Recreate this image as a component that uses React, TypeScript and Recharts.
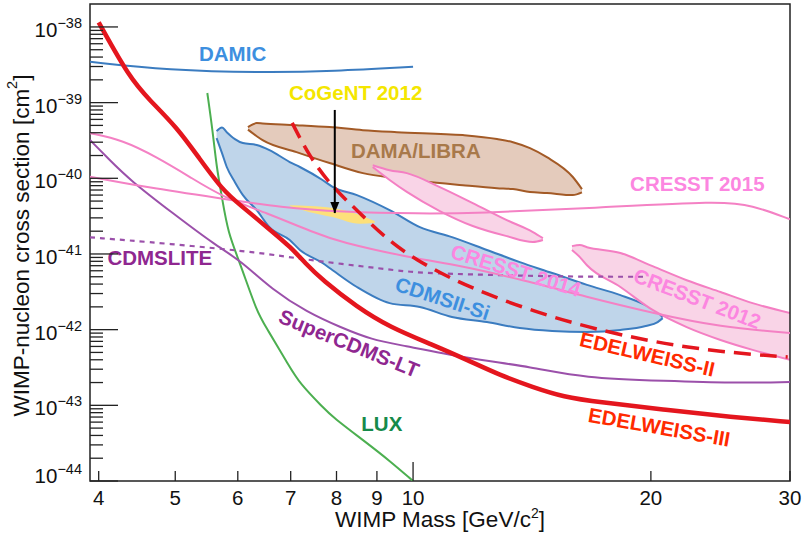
import React from 'react';
import { ComposedChart, Line, Area, XAxis, YAxis, ReferenceArea, ReferenceDot } from 'recharts';

// ---------- axes ----------
const xTicks = [4, 5, 6, 7, 8, 9, 10, 20, 30];
const yDecadeExponents = [-44, -43, -42, -41, -40, -39, -38];
const yMinorMantissas = [2, 3, 4, 5, 6, 7, 8, 9];
const xDomain = [3.9, 30];
const yDomain = [1e-44, 2.01e-38];

// ---------- exclusion limits (mass GeV/c^2, cross section cm^2) ----------
const damicMass = [3.9, 4.88, 6.52, 7.9, 10];
const damicSigma = [3.46e-39, 2.69e-39, 2.48e-39, 2.6e-39, 2.97e-39];

const edw3Mass = [4.0, 4.38, 4.64, 5.02, 5.36, 5.74, 6.03, 6.6, 7.0, 7.3, 7.68, 8.49, 9.34, 10.59, 11.7, 12.88, 14.18, 15.5, 17.2, 20.9, 25.3, 30];
const edw3Sigma = [1.15e-38, 2.1e-39, 1.08e-39, 4.75e-40, 1.85e-40, 7.0e-41, 4.5e-41, 2.07e-41, 1.23e-41, 7.6e-42, 4.5e-42, 2.0e-42, 1.08e-42, 6.3e-43, 4.0e-43, 2.5e-43, 1.74e-43, 1.29e-43, 1.1e-43, 8.7e-44, 7.0e-44, 6.0e-44];

const edw2Mass = [7.03, 7.4, 7.9, 8.49, 9.28, 10.1, 11.2, 12.4, 14.18, 16.6, 20.1, 24.5, 29.8];
const edw2Sigma = [5.4e-40, 1.9e-40, 7.7e-41, 3.8e-41, 1.53e-41, 8.3e-42, 4.66e-42, 2.95e-42, 1.76e-42, 1.08e-42, 6.86e-43, 5.06e-43, 4.35e-43];

const luxMass = [5.49, 5.58, 5.64, 5.73, 5.83, 6.04, 6.35, 6.52, 6.98, 7.19, 7.68, 7.91, 8.74, 9.34, 10];
const luxSigma = [1.34e-39, 4.0e-40, 1.4e-40, 5.6e-41, 1.9e-41, 7.6e-42, 1.66e-42, 1.07e-42, 3.2e-43, 1.94e-43, 9.5e-44, 7.0e-44, 3.18e-44, 1.85e-44, 1.0e-44];

const cdmsliteMass = [3.9, 4.88, 6.52, 7.0, 9.34, 10.2, 12.4, 15.8, 19.8];
const cdmsliteSigma = [1.66e-41, 1.38e-41, 1.02e-41, 8.9e-42, 6.2e-42, 5.6e-42, 5.3e-42, 5.0e-42, 5.0e-42];

const superCdmsMass = [3.9, 4.13, 4.38, 4.96, 5.64, 6.04, 6.64, 7.34, 8.08, 8.89, 9.62, 11.7, 14.18, 16.4, 20.96, 25.3, 30];
const superCdmsSigma = [3.2e-40, 1.74e-40, 9.5e-41, 3.47e-41, 1.27e-41, 8.3e-42, 3.33e-42, 1.71e-42, 1.08e-42, 7.3e-43, 6.3e-43, 4.2e-43, 3.2e-43, 2.3e-43, 2.1e-43, 1.97e-43, 2.03e-43];

const cresst14Mass = [3.9, 4.29, 4.74, 5.22, 5.74, 6.52, 7.5, 8.08, 9.82, 11.2, 13.65, 16.6, 20.1, 24.5, 30];
const cresst14Sigma = [3.95e-40, 3.2e-40, 1.9e-40, 1.04e-40, 5.65e-41, 3.5e-41, 1.9e-41, 1.44e-41, 9.1e-42, 7.4e-42, 4.66e-42, 2.7e-42, 1.66e-42, 1.08e-42, 9.0e-43];

const cresst15Mass = [3.9, 4.6, 5.65, 6.84, 8.08, 10.2, 12, 17.2, 24.5, 26.8, 30];
const cresst15Sigma = [1.05e-40, 7.6e-41, 5.5e-41, 4.1e-41, 3.6e-41, 3.4e-41, 3.45e-41, 4.1e-41, 5.0e-41, 4.45e-41, 2.87e-41];

// ---------- signal regions (mass, lower, upper) ----------
const damaMass = [6.18, 6.34, 6.45, 7.12, 7.84, 8.64, 9.54, 11.56, 12.77, 13.38, 14.06, 14.77, 15.93, 16.36];
const damaLow = [4.4e-40, 3.6e-40, 3.2e-40, 2.22e-40, 1.59e-40, 1.17e-40, 1.0e-40, 8.1e-41, 7.4e-41, 7.2e-41, 6.6e-41, 6.4e-41, 6.0e-41, 6.5e-41];
const damaHigh = [4.75e-40, 5.36e-40, 5.3e-40, 5.04e-40, 4.75e-40, 4.33e-40, 4.07e-40, 3.72e-40, 3.3e-40, 3.0e-40, 2.5e-40, 1.9e-40, 1.04e-40, 7.2e-41];

const cdms2Mass = [5.64, 5.73, 5.81, 5.95, 6.09, 6.34, 6.58, 6.98, 7.19, 7.68, 7.91, 8.49, 9.34, 10.2, 11.2, 12.4, 13.65, 15.0, 16.6, 18.3, 19.7, 20.4, 20.7];
const cdms2Low = [3.4e-40, 2.15e-40, 1.41e-40, 8.9e-41, 6.0e-41, 3.8e-41, 2.26e-41, 1.53e-41, 1.13e-41, 7.6e-42, 6.1e-42, 3.66e-42, 2.24e-42, 1.99e-42, 1.47e-42, 1.26e-42, 1.05e-42, 9.6e-43, 9.3e-43, 9.9e-43, 1.12e-42, 1.26e-42, 1.42e-42];
const cdms2High = [4.2e-40, 4.7e-40, 4.07e-40, 3.3e-40, 2.92e-40, 2.75e-40, 2.36e-40, 1.64e-40, 1.41e-40, 9.5e-41, 7.7e-41, 6.0e-41, 3.8e-41, 2.26e-41, 1.67e-41, 1.13e-41, 7.8e-42, 5.6e-42, 3.9e-42, 2.86e-42, 2.11e-42, 1.71e-42, 1.45e-42];

const cogentMass = [6.98, 7.4, 7.91, 8.56, 8.94];
const cogentLow = [4.29e-41, 3.57e-41, 3.07e-41, 2.5e-41, 2.56e-41];
const cogentHigh = [4.4e-41, 4.29e-41, 4.04e-41, 3.27e-41, 2.72e-41];

const cresst12aMass = [8.89, 9.34, 9.82, 10.81, 11.9, 13.14, 14.18, 14.6];
const cresst12aLow = [1.41e-40, 9.5e-41, 6.6e-41, 3.69e-41, 2.34e-41, 1.72e-41, 1.44e-41, 1.53e-41];
const cresst12aHigh = [1.49e-40, 1.28e-40, 1.17e-40, 7.65e-41, 4.7e-41, 2.8e-41, 1.95e-41, 1.62e-41];

const cresst12bMass = [15.89, 16.26, 16.6, 18.3, 20.1, 22.2, 24.5, 26.9, 30];
const cresst12bLow = [1.13e-41, 9.1e-42, 7.1e-42, 3.66e-42, 1.82e-42, 1.08e-42, 7.3e-43, 5.4e-43, 4.0e-43];
const cresst12bHigh = [1.27e-41, 1.31e-41, 1.23e-41, 1.03e-41, 6.9e-42, 4.5e-42, 3.14e-42, 2.24e-42, 1.66e-42];

// ---------- arrow (CoGeNT) ----------
const arrowMass = [7.96, 7.96];
const arrowSigma = [8.0e-40, 3.47e-41];

// ---------- labels ----------
const labelText = ['DAMIC', 'CoGeNT 2012', 'DAMA/LIBRA', 'CRESST 2015', 'CDMSLITE', 'CRESST 2014', 'CDMSII-Si', 'CRESST 2012', 'SuperCDMS-LT', 'EDELWEISS-II', 'EDELWEISS-III', 'LUX'];
const labelMass = [5.91, 8.46, 10.08, 22.9, 4.78, 13.5, 10.9, 22.9, 8.3, 19.8, 20.5, 9.13];
const labelSigma = [4.4e-39, 1.38e-39, 2.36e-40, 8.65e-41, 9.1e-42, 6.1e-42, 2.6e-42, 2.6e-42, 6.65e-43, 4.76e-43, 5.2e-44, 5.8e-44];
const labelAngle = [0, 0, 0, 0, 0, 17, 18, 21, 22, 13, 10, 0];
const labelColor = ['#3d8fdf', '#f4e600', '#a8794a', '#fc86e0', '#8f2790', '#fc86e0', '#3d8fdf', '#fc86e0', '#8f2790', '#ff2a00', '#ff2a00', '#168a4a'];

const FONT = "'Liberation Sans', Arial, Helvetica, sans-serif";

const rows = (m: number[], s: number[]) => m.map((v, i) => ({ m: v, s: s[i] }));
const rangeRows = (m: number[], lo: number[], hi: number[]) => m.map((v, i) => ({ m: v, r: [lo[i], hi[i]] }));

const yMajor = yDecadeExponents.map((e) => Number(`1e${e}`));
const yMinor = yDecadeExponents.slice(0, -1).flatMap((e) => yMinorMantissas.map((k) => Number(`${k}e${e}`)));
const yTicks = [...yMajor, ...yMinor].sort((a, b) => a - b);

const YTick = (props: any) => {
  const { x, y, payload } = props;
  const v = payload.value;
  const lg = Math.log10(v);
  const e = Math.round(lg);
  const major = Math.abs(lg - e) < 1e-6;
  if (!major) {
    return <line x1={x} x2={x + 13} y1={y} y2={y} stroke="#222" strokeWidth={1.3} />;
  }
  const dy = e === -44 ? 2 : 10;
  return (
    <g>
      <line x1={x} x2={x + 28} y1={y} y2={y} stroke="#222" strokeWidth={1.3} />
      <text x={x - 8} y={y + dy} textAnchor="end" fontFamily={FONT} fill="#111">
        <tspan fontSize={20.5}>10</tspan>
        <tspan fontSize={14.5} dy={-9}>{`\u2212${-e}`}</tspan>
      </text>
    </g>
  );
};

const XTick = (props: any) => {
  const { x, y, payload } = props;
  const v = payload.value;
  const len = v === 10 ? 19 : 10;
  return (
    <g>
      <line x1={x} x2={x} y1={y} y2={y - len} stroke="#222" strokeWidth={1.3} />
      <text x={x} y={y + 24} textAnchor="middle" fontFamily={FONT} fontSize={20.5} fill="#111">
        {v}
      </text>
    </g>
  );
};

const Arrowhead = (props: any) => {
  const { cx, cy, index } = props;
  if (index !== 1) return <g key={`a${index}`} />;
  return <polygon key={`a${index}`} points={`${cx},${cy} ${cx - 4.5},${cy - 11} ${cx + 4.5},${cy - 11}`} fill="#000" />;
};

const makeLabel = (i: number) => (p: any) => (
  <text
    x={p.cx}
    y={p.cy}
    textAnchor="middle"
    dominantBaseline="central"
    transform={`rotate(${labelAngle[i]} ${p.cx} ${p.cy})`}
    fontFamily={FONT}
    fontWeight="bold"
    fontSize={20.5}
    fill={labelColor[i]}
  >
    {labelText[i]}
  </text>
);

const XTitle = (props: any) => {
  const vb = props.viewBox;
  return (
    <text x={vb.x + 350} y={vb.y + 46} textAnchor="middle" fontFamily={FONT} fontSize={22.5} fill="#111">
      WIMP Mass [GeV/c<tspan fontSize={14} dy={-9}>2</tspan>
      <tspan dy={9}>]</tspan>
    </text>
  );
};

const YTitle = (props: any) => {
  const vb = props.viewBox;
  const cx = 21;
  const cy = vb.y + vb.height / 2 + 3;
  return (
    <text x={cx} y={cy} textAnchor="middle" fontFamily={FONT} fontSize={22.5} fill="#111" transform={`rotate(-90 ${cx} ${cy})`} dominantBaseline="central">
      WIMP-nucleon cross section [cm<tspan fontSize={14.5} dy={-9}>2</tspan>
      <tspan dy={9}>]</tspan>
    </text>
  );
};

const regionProps = { type: 'monotone' as const, dataKey: 'r', isAnimationActive: false, dot: false, activeDot: false, fillOpacity: 1, strokeWidth: 2 };
const lineProps = { type: 'basis' as const, dataKey: 's', isAnimationActive: false, dot: false, activeDot: false };

export default function App() {
  return (
    <div style={{ position: 'absolute', left: 0, top: 0, background: '#fff' }}>
      <ComposedChart width={805} height={534} margin={{ top: 4, right: 15, left: 0, bottom: 0 }}>
        <XAxis
          dataKey="m"
          type="number"
          scale="log"
          domain={xDomain}
          allowDataOverflow
          ticks={xTicks}
          interval={0}
          tick={<XTick />}
          tickSize={0}
          tickMargin={0}
          tickLine={false}
          axisLine={false}
          height={53}
          label={<XTitle />}
        />
        <YAxis
          type="number"
          scale="log"
          domain={yDomain}
          allowDataOverflow
          ticks={yTicks}
          interval={0}
          tick={<YTick />}
          tickSize={0}
          tickMargin={0}
          tickLine={false}
          axisLine={false}
          width={90}
          label={<YTitle />}
        />

        <Area {...regionProps} data={rangeRows(damaMass, damaLow, damaHigh)} fill="#e4cbbc" stroke="#a35a26" />
        <Area {...regionProps} data={rangeRows(cdms2Mass, cdms2Low, cdms2High)} fill="#bfd5ea" stroke="#3b7cc0" />
        <Area {...regionProps} data={rangeRows(cogentMass, cogentLow, cogentHigh)} fill="#fde07a" stroke="none" />
        <Area {...regionProps} data={rangeRows(cresst12aMass, cresst12aLow, cresst12aHigh)} fill="#f9d4e7" stroke="#f47fc3" />
        <Area {...regionProps} data={rangeRows(cresst12bMass, cresst12bLow, cresst12bHigh)} fill="#f9d4e7" stroke="#f47fc3" />

        <Line {...lineProps} data={rows(damicMass, damicSigma)} stroke="#3b7cc0" strokeWidth={2} />
        <Line {...lineProps} data={rows(luxMass, luxSigma)} stroke="#4caf50" strokeWidth={2} />
        <Line {...lineProps} data={rows(cdmsliteMass, cdmsliteSigma)} stroke="#9b50aa" strokeWidth={2.2} strokeDasharray="5 5" />
        <Line {...lineProps} data={rows(superCdmsMass, superCdmsSigma)} stroke="#9b50aa" strokeWidth={2} />
        <Line {...lineProps} data={rows(cresst14Mass, cresst14Sigma)} stroke="#f481c4" strokeWidth={2} />
        <Line {...lineProps} data={rows(cresst15Mass, cresst15Sigma)} stroke="#f481c4" strokeWidth={2} />
        <Line {...lineProps} data={rows(edw2Mass, edw2Sigma)} stroke="#e4161e" strokeWidth={3.5} strokeDasharray="17 9" />
        <Line {...lineProps} data={rows(edw3Mass, edw3Sigma)} stroke="#e4161e" strokeWidth={4.5} />
        <Line type="linear" dataKey="s" data={rows(arrowMass, arrowSigma)} stroke="#000" strokeWidth={2} isAnimationActive={false} activeDot={false} dot={<Arrowhead />} />

        {labelText.map((t, i) => (
          <ReferenceDot key={t} x={labelMass[i]} y={labelSigma[i]} r={0} shape={makeLabel(i)} />
        ))}

        <ReferenceArea x1={xDomain[0]} x2={xDomain[1]} y1={yDomain[0]} y2={yDomain[1]} fill="none" stroke="#222" strokeWidth={1.5} fillOpacity={0} />
      </ComposedChart>
    </div>
  );
}
